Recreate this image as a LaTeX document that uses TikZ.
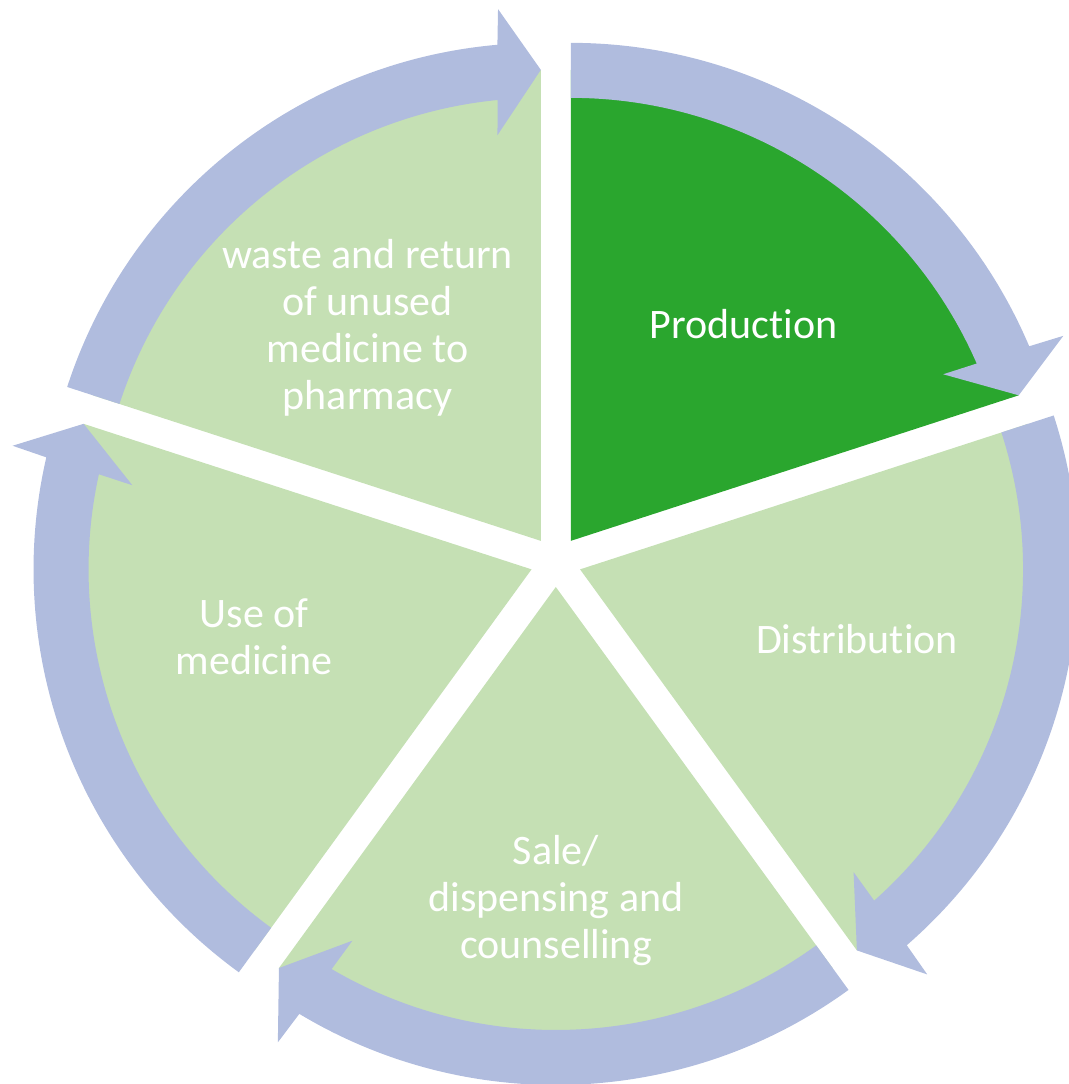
\documentclass[tikz,border=0pt]{standalone}
\usepackage{fontspec}
\setmainfont{Carlito}[Ligatures=NoCommon]
\definecolor{arrowblue}{RGB}{176,188,222}
\definecolor{lightgreen}{RGB}{197,224,180}
\definecolor{prodgreen}{RGB}{42,166,46}
\begin{document}
\begin{tikzpicture}[x=1pt,y=1pt,
  lbl/.style={text=white, font=\fontsize{42}{47}\selectfont, anchor=base,
              align=center, text width=400pt, inner sep=0pt,
              execute at begin node={\spaceskip=9.5pt plus 0pt minus 0pt\relax}}]
\useasboundingbox (0,0) rectangle (1068,1084);
\coordinate (C) at (555.8,522.5);
% wedges
\foreach \s/\e/\m/\c in {90/18/54/prodgreen, 18/-54/-18/lightgreen,
    -54/-126/-90/lightgreen, -126/-198/-162/lightgreen, 162/90/126/lightgreen}{
  \begin{scope}[shift={(C)}, shift={(\m:25.5)}]
    \fill[\c] (0,0) -- (\s:471) arc[start angle=\s, end angle=\e, radius=471] -- cycle;
  \end{scope}
}
% circular arrows
\foreach \s/\e/\m in {90/18/54, 18/-54/-18, -54/-126/-90, -126/-198/-162, 162/90/126}{
  \begin{scope}[shift={(C)}, shift={(\m:25.5)}]
    \fill[arrowblue] (\s:443) arc[start angle=\s, end angle={\e+5.6}, radius=443]
      -- ({\e+6.1}:408) -- (\e:471) -- ({\e+4.6}:533.5) -- ({\e+5.0}:498)
      arc[start angle={\e+5.0}, end angle=\s, radius=498] -- cycle;
  \end{scope}
}
\node[lbl] (prod) at (743.7,745.7) {Production};
\node[lbl] (dist) at (857,430.7) {Distribution};
\node[lbl] (sale) at (556,219) {Sale/\\dispensing and\\counselling};
\node[lbl] (use) at (254,456.7) {Use of\\medicine};
\node[lbl] (waste) at (367.5,815.7) {waste and return\\of unused\\medicine to\\pharmacy};
\end{tikzpicture}
\end{document}
